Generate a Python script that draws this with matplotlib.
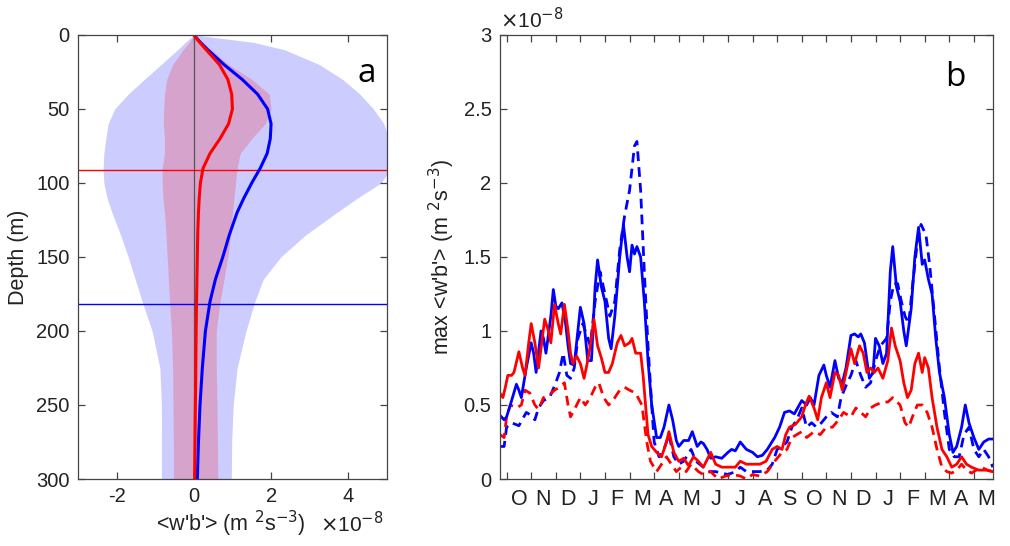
import matplotlib
matplotlib.use('Agg')
import matplotlib.pyplot as plt
import numpy as np

plt.rcParams['font.family'] = ['Liberation Sans', 'DejaVu Sans']
plt.rcParams['axes.unicode_minus'] = False

# ---- panel a: depth profiles (x in units of 1e-8 m^2 s^-3) ----
depth = [0, 5, 10, 20, 30, 40, 50, 60, 70, 80, 90, 100, 110, 120, 135, 150,
         165, 180, 200, 225, 250, 275, 300]
blue_mean = [0, 0.17, 0.36, 0.78, 1.25, 1.65, 1.91, 2.0, 1.98, 1.9, 1.72, 1.5,
             1.3, 1.12, 0.92, 0.75, 0.56, 0.42, 0.3, 0.22, 0.16, 0.12, 0.09]
red_mean = [0, 0.15, 0.32, 0.66, 0.88, 0.98, 1.0, 0.9, 0.68, 0.42, 0.24, 0.17,
            0.14, 0.12, 0.1, 0.09, 0.08, 0.07, 0.06, 0.05, 0.04, 0.03, 0.02]
blue_lo = [0, -0.22, -0.42, -0.85, -1.28, -1.7, -2.05, -2.22, -2.28, -2.33,
           -2.35, -2.33, -2.25, -2.12, -1.9, -1.7, -1.52, -1.34, -1.08, -0.88,
           -0.84, -0.84, -0.84]
blue_hi = [0, 1.55, 2.35, 3.25, 3.85, 4.3, 4.65, 4.92, 5.05, 5.12, 5.1, 4.85,
           4.25, 3.7, 2.9, 2.25, 1.8, 1.58, 1.35, 1.12, 1.02, 0.98, 0.97]
red_lo = [0, -0.12, -0.28, -0.55, -0.7, -0.76, -0.78, -0.79, -0.76, -0.76,
          -0.82, -0.82, -0.8, -0.76, -0.72, -0.69, -0.66, -0.63, -0.58, -0.55,
          -0.54, -0.53, -0.53]
red_hi = [0, 0.22, 0.45, 0.9, 1.5, 1.95, 2.0, 1.85, 1.5, 1.2, 1.12, 1.08,
          1.04, 1.0, 0.95, 0.88, 0.78, 0.68, 0.58, 0.58, 0.6, 0.61, 0.62]
red_mld = 91
blue_mld = 182

# ---- panel b: time series (months since 1 Oct, values in 1e-8) ----
t_bs = [-0.27, -0.1, 0, 0.15, 0.4, 0.5, 0.6, 0.8, 1.0, 1.1, 1.2, 1.4, 1.5, 1.6,
        1.8, 1.9, 2.0, 2.1, 2.25, 2.4, 2.5, 2.6, 2.75, 2.9, 3.0, 3.15, 3.3,
        3.45, 3.6, 3.7, 3.85, 4.0, 4.15, 4.25, 4.4, 4.6, 4.75, 4.9, 5.0, 5.1,
        5.2, 5.3, 5.45, 5.6, 5.75, 5.9, 6.1, 6.25, 6.4, 6.6, 6.75, 6.9, 7.0,
        7.2, 7.4, 7.55, 7.75, 7.9, 8.0, 8.15, 8.3, 8.5, 8.75, 9.0, 9.15, 9.3,
        9.5, 9.75, 10.0, 10.2, 10.4, 10.6, 10.9, 11.1, 11.3, 11.5, 11.7, 11.9,
        12.0, 12.2, 12.35, 12.5, 12.7, 12.9, 13.0, 13.15, 13.35, 13.5, 13.65,
        13.8, 14.0, 14.15, 14.3, 14.4, 14.55, 14.75, 14.9, 15.0, 15.15, 15.3,
        15.45, 15.6, 15.7, 15.85, 16.0, 16.15, 16.25, 16.45, 16.6, 16.75,
        16.9, 17.0, 17.15, 17.3, 17.45, 17.6, 17.8, 18.0, 18.15, 18.3, 18.5,
        18.65, 18.8, 19.0, 19.2, 19.4, 19.6, 19.77]
blue_solid = [0.43, 0.4, 0.42, 0.5, 0.64, 0.6, 0.55, 0.75, 0.92, 0.85, 0.72,
              1.0, 0.95, 0.85, 1.1, 1.28, 1.17, 1.15, 1.19, 1.05, 0.9, 0.78,
              0.77, 1.0, 1.16, 1.05, 0.8, 0.8, 1.3, 1.48, 1.3, 1.2, 0.95, 0.88,
              1.1, 1.5, 1.72, 1.5, 1.4, 1.58, 1.52, 1.57, 1.5, 1.2, 0.8, 0.5,
              0.28, 0.28, 0.35, 0.5, 0.4, 0.26, 0.22, 0.26, 0.26, 0.32, 0.22,
              0.25, 0.24, 0.2, 0.14, 0.15, 0.14, 0.18, 0.2, 0.19, 0.25, 0.2,
              0.18, 0.15, 0.16, 0.2, 0.28, 0.35, 0.45, 0.46, 0.44, 0.5, 0.53,
              0.5, 0.55, 0.5, 0.7, 0.77, 0.7, 0.62, 0.8, 0.68, 0.65, 0.75, 0.97,
              0.98, 0.96, 0.98, 0.92, 0.68, 0.72, 0.95, 0.9, 0.78, 0.85, 1.4,
              1.57, 1.3, 1.2, 1.0, 0.9, 1.15, 1.5, 1.7, 1.45, 1.48, 1.35, 1.25,
              0.95, 0.72, 0.55, 0.3, 0.18, 0.22, 0.35, 0.5, 0.38, 0.28, 0.2,
              0.25, 0.27, 0.27]

t_rs = [-0.27, -0.15, -0.05, 0.05, 0.2, 0.3, 0.5, 0.65, 0.75, 0.9, 1.0, 1.15,
        1.3, 1.45, 1.55, 1.7, 1.8, 1.95, 2.1, 2.2, 2.35, 2.5, 2.6, 2.7, 2.85,
        3.0, 3.15, 3.3, 3.45, 3.55, 3.7, 3.85, 4.0, 4.15, 4.3, 4.5, 4.65, 4.8,
        5.0, 5.1, 5.25, 5.45, 5.55, 5.75, 5.9, 6.1, 6.3, 6.5, 6.6, 6.8, 7.0,
        7.2, 7.4, 7.6, 7.8, 8.0, 8.3, 8.5, 8.75, 9.0, 9.3, 9.5, 9.75, 10.0,
        10.3, 10.55, 10.8, 11.0, 11.2, 11.35, 11.5, 11.75, 12.0, 12.15, 12.3,
        12.5, 12.65, 12.8, 13.0, 13.15, 13.35, 13.5, 13.65, 13.8, 14.0, 14.15,
        14.35, 14.5, 14.65, 14.8, 14.95, 15.1, 15.3, 15.5, 15.65, 15.8, 16.0,
        16.15, 16.3, 16.45, 16.6, 16.75, 16.9, 17.0, 17.15, 17.3, 17.5, 17.7,
        17.9, 18.1, 18.3, 18.5, 18.7, 18.9, 19.2, 19.5, 19.77]
red_solid = [0.58, 0.55, 0.62, 0.7, 0.7, 0.72, 0.86, 0.75, 0.7, 0.92, 1.05,
             0.92, 0.75, 0.95, 1.08, 1.0, 0.92, 1.18, 1.05, 0.98, 1.18, 1.0,
             0.85, 0.78, 0.83, 0.78, 0.68, 0.8, 0.95, 1.08, 0.9, 0.82, 0.72,
             0.72, 0.78, 0.92, 0.97, 0.9, 0.92, 0.95, 0.85, 0.85, 0.7, 0.3,
             0.22, 0.18, 0.15, 0.25, 0.32, 0.18, 0.12, 0.14, 0.09, 0.15, 0.12,
             0.08, 0.18, 0.1, 0.08, 0.08, 0.08, 0.12, 0.1, 0.1, 0.1, 0.12, 0.2,
             0.22, 0.2, 0.3, 0.35, 0.37, 0.42, 0.5, 0.56, 0.48, 0.4, 0.55, 0.65,
             0.55, 0.72, 0.7, 0.6, 0.72, 0.88, 0.78, 0.9, 0.85, 0.72, 0.75,
             0.72, 0.75, 0.68, 0.8, 1.02, 0.9, 0.8, 0.65, 0.55, 0.6, 0.78,
             0.85, 0.72, 0.82, 0.75, 0.55, 0.35, 0.2, 0.15, 0.08, 0.1, 0.15,
             0.1, 0.08, 0.06, 0.06, 0.05]

t_bd = [-0.27, -0.1, 0.0, 0.2, 0.5, 0.8, 1.0, 1.15, 1.3, 1.5, 1.75, 2.0, 2.15,
        2.3, 2.45, 2.6, 2.75, 2.9, 3.1, 3.4, 3.6, 3.8, 4.0, 4.2, 4.4, 4.6, 4.8,
        5.0, 5.2, 5.3, 5.45, 5.6, 5.75, 5.9, 6.0, 6.2, 6.4, 6.6, 6.8, 7.0,
        7.2, 7.5, 7.7, 8.0, 8.2, 8.5, 8.75, 9.0, 9.3, 9.5, 9.75, 10.0, 10.3,
        10.6, 10.8, 11.0, 11.2, 11.4, 11.6, 11.8, 12.0, 12.2, 12.4, 12.6,
        12.8, 13.0, 13.2, 13.45, 13.6, 13.85, 14.0, 14.2, 14.4, 14.6, 14.8,
        15.0, 15.2, 15.45, 15.6, 15.75, 15.9, 16.05, 16.2, 16.35, 16.5, 16.7,
        16.85, 17.05, 17.2, 17.4, 17.6, 17.8, 18.0, 18.2, 18.4, 18.6, 18.8,
        19.0, 19.2, 19.4, 19.6, 19.77]
blue_dash = [0.22, 0.22, 0.35, 0.38, 0.36, 0.45, 0.43, 0.4, 0.48, 0.53, 0.55,
             0.65, 0.72, 0.85, 0.7, 0.68, 0.75, 0.95, 1.05, 0.9, 1.2, 1.4,
             1.25, 1.1, 1.2, 1.55, 1.78, 1.95, 2.25, 2.28, 1.95, 1.4, 0.9, 0.5,
             0.25, 0.15, 0.2, 0.3, 0.15, 0.1, 0.12, 0.2, 0.12, 0.08, 0.05, 0.05,
             0.04, 0.03, 0.05, 0.08, 0.05, 0.05, 0.05, 0.06, 0.1, 0.2, 0.22,
             0.25, 0.35, 0.4, 0.48, 0.35, 0.38, 0.35, 0.38, 0.42, 0.45, 0.42,
             0.55, 0.65, 0.7, 0.8, 0.7, 0.62, 0.65, 0.8, 0.9, 0.95, 1.2, 1.32,
             1.32, 1.2, 1.1, 1.05, 1.3, 1.6, 1.72, 1.65, 1.45, 1.1, 0.75, 0.45,
             0.2, 0.15, 0.15, 0.3, 0.35, 0.2, 0.15, 0.2, 0.15, 0.08]

t_rd = [-0.27, -0.1, 0.0, 0.15, 0.4, 0.6, 0.75, 0.95, 1.15, 1.3, 1.5, 1.75,
        1.95, 2.15, 2.35, 2.5, 2.6, 2.85, 3.0, 3.2, 3.4, 3.6, 3.75, 3.95,
        4.15, 4.4, 4.6, 4.8, 5.0, 5.25, 5.5, 5.7, 5.85, 6.1, 6.3, 6.5, 6.7,
        6.9, 7.1, 7.3, 7.5, 7.8, 8.0, 8.3, 8.6, 8.9, 9.2, 9.5, 9.75, 10.0,
        10.3, 10.6, 10.9, 11.2, 11.4, 11.6, 11.8, 12.0, 12.2, 12.5, 12.75,
        13.0, 13.25, 13.5, 13.7, 14.0, 14.2, 14.4, 14.6, 14.8, 15.0, 15.3,
        15.5, 15.7, 16.0, 16.2, 16.35, 16.5, 16.7, 16.9, 17.1, 17.3, 17.5,
        17.7, 17.9, 18.1, 18.3, 18.5, 18.7, 18.9, 19.1, 19.3, 19.55, 19.77]
red_dash = [0.3, 0.28, 0.42, 0.5, 0.48, 0.5, 0.6, 0.58, 0.5, 0.47, 0.55, 0.57,
            0.6, 0.62, 0.65, 0.5, 0.42, 0.5, 0.55, 0.5, 0.55, 0.62, 0.65, 0.55,
            0.5, 0.55, 0.6, 0.62, 0.6, 0.58, 0.5, 0.25, 0.12, 0.05, 0.1, 0.15,
            0.1, 0.05, 0.08, 0.05, 0.1, 0.05, 0.03, 0.05, 0.0, 0.02, 0.03,
            0.02, 0.0, 0.03, 0.02, 0.05, 0.12, 0.18, 0.2, 0.28, 0.3, 0.32,
            0.28, 0.32, 0.3, 0.35, 0.35, 0.4, 0.45, 0.42, 0.48, 0.45, 0.42,
            0.48, 0.5, 0.52, 0.52, 0.55, 0.5, 0.38, 0.35, 0.42, 0.5, 0.5, 0.45,
            0.35, 0.2, 0.08, 0.05, 0.04, 0.06, 0.1, 0.06, 0.04, 0.06, 0.08,
            0.06, 0.05]

month_labels = ['O', 'N', 'D', 'J', 'F', 'M', 'A', 'M', 'J', 'J', 'A', 'S',
                'O', 'N', 'D', 'J', 'F', 'M', 'A', 'M']

BLUE = '#0000ff'
RED = '#ff0000'
SPINE = '#444444'
TXT = '#222222'

fig = plt.figure(figsize=(10.1, 5.46), dpi=100)
ax1 = fig.add_axes([0.0772, 0.1227, 0.3059, 0.8133])
ax2 = fig.add_axes([0.495, 0.1227, 0.488, 0.8133])

# panel a
ax1.fill_betweenx(depth, blue_lo, blue_hi, color=BLUE, alpha=0.2, lw=0)
ax1.fill_betweenx(depth, red_lo, red_hi, color=RED, alpha=0.2, lw=0)
ax1.axvline(0, color='#555555', lw=0.9)
ax1.axhline(red_mld, color=RED, lw=1.0)
ax1.axhline(blue_mld, color=BLUE, lw=1.0)
ax1.plot(blue_mean, depth, color=BLUE, lw=2.2)
ax1.plot(red_mean, depth, color=RED, lw=2.2)
ax1.set_xlim(-3, 5)
ax1.set_ylim(300, 0)
ax1.set_xticks([-2, 0, 2, 4])
ax1.set_yticks(np.arange(0, 301, 50))
ax1.set_ylabel('Depth (m)', fontsize=15.5, labelpad=5, color=TXT)
ax1.set_xlabel("<w'b'> (m $^2$s$^{-3}$)", fontsize=15.5, color=TXT)
ax1.xaxis.label.set_va('center')
ax1.xaxis.set_label_coords(0.495, -0.102)
ax1.text(0.988, -0.1, r'$\times$10$^{-8}$', transform=ax1.transAxes,
         ha='right', va='center', fontsize=15, color=TXT)
ax1.text(0.935, 0.914, 'a', transform=ax1.transAxes, ha='center',
         va='center', fontsize=24, family=['Open Sans', 'DejaVu Sans'])

# panel b
dash = (0, (3.5, 2.2))
ax2.plot(t_bd, blue_dash, color=BLUE, lw=2.0, linestyle=dash)
ax2.plot(t_rd, red_dash, color=RED, lw=2.0, linestyle=dash)
ax2.plot(t_bs, blue_solid, color=BLUE, lw=2.0)
ax2.plot(t_rs, red_solid, color=RED, lw=2.0)
ax2.set_xlim(-0.27, 19.77)
ax2.set_ylim(0, 3)
ax2.set_yticks(np.arange(0, 3.01, 0.5))
ax2.set_yticklabels(['%g' % v for v in np.arange(0, 3.01, 0.5)])
ax2.set_xticks(np.arange(0, 20))
ax2.set_xticklabels([])
ax2.set_xticks(np.arange(0.5, 20), minor=True)
ax2.set_xticklabels(month_labels, minor=True, fontsize=15.5, color=TXT)
ax2.tick_params(axis='x', which='minor', length=0, pad=7)
ax2.set_ylabel("max <w'b'> (m $^2$s$^{-3}$)", fontsize=15.5, labelpad=5,
               color=TXT)
ax2.text(0.0, 1.034, r'$\times$10$^{-8}$', transform=ax2.transAxes,
         ha='left', va='center', fontsize=15, color=TXT)
ax2.text(0.923, 0.905, 'b', transform=ax2.transAxes, ha='center',
         va='center', fontsize=24, family=['Open Sans', 'DejaVu Sans'])

for ax in (ax1, ax2):
    for s in ax.spines.values():
        s.set_color(SPINE)
        s.set_linewidth(0.9)
    ax.tick_params(which='major', direction='in', length=5, width=0.9,
                   color=SPINE, top=True, right=True, labelsize=14.5,
                   labelcolor=TXT, pad=6)

plt.savefig('out.png', dpi=100)
